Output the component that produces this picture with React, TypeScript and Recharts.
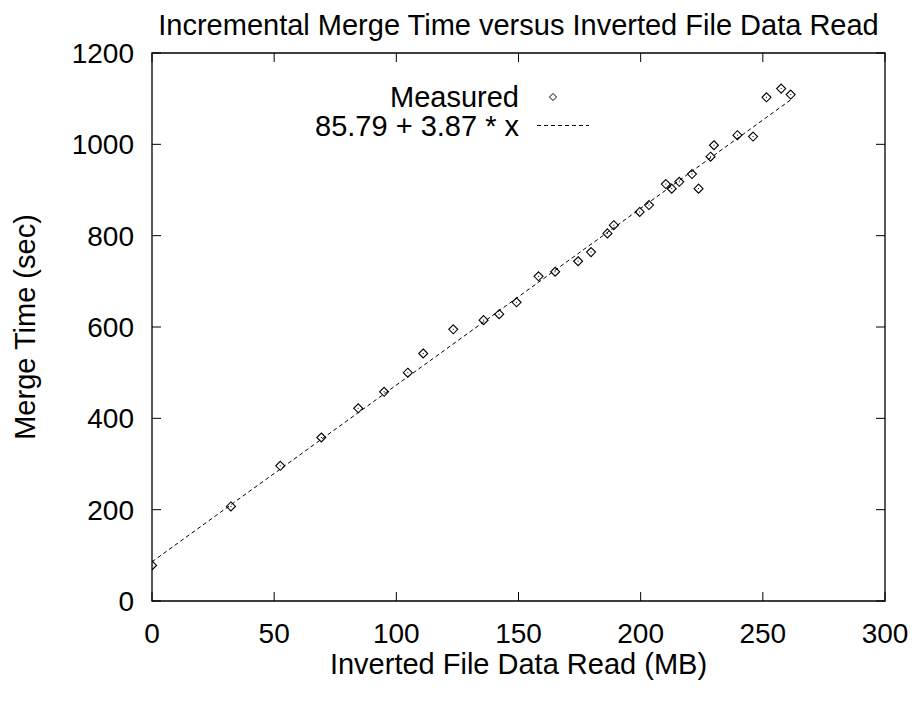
import React from 'react';
import { ScatterChart, Scatter, XAxis, YAxis, ReferenceArea, Legend } from 'recharts';

// ---- data ----
const dataReadMB = [
  0, 32.3, 52.5, 69.3, 84.4, 95, 104.7, 111, 123.3, 135.7, 142.1, 149.2, 158.2, 165,
  174.4, 179.7, 186.4, 189, 199.6, 203.4, 210.3, 212.7, 215.8, 221, 223.7, 228.6, 230,
  239.6, 246, 251.5, 257.5, 261.4,
];
const mergeTimeSec = [
  78, 207, 296, 358, 422, 458, 500, 542, 595, 615, 628, 654, 711, 721,
  744, 764, 805, 823, 852, 867, 913, 903, 918, 935, 903, 973, 998,
  1020, 1017, 1103, 1122, 1109,
];
const fitX = [0, 261.4];
const fitY = [85.79, 1097.4];
const xTicks = [0, 50, 100, 150, 200, 250, 300];
const yTicks = [0, 200, 400, 600, 800, 1000, 1200];

const TITLE = 'Incremental Merge Time versus Inverted File Data Read';
const X_LABEL = 'Inverted File Data Read (MB)';
const Y_LABEL = 'Merge Time (sec)';
const MEASURED_NAME = 'Measured';
const FIT_NAME = '85.79 + 3.87 * x';

const measured = dataReadMB.map((x, i) => ({ x, y: mergeTimeSec[i] }));
const fitLine = fitX.map((x, i) => ({ x, y: fitY[i] }));

// ---- layout / style ----
const W = 909;
const H = 690;
const PLOT_LEFT = 144;
const PLOT_RIGHT = 877;
const PLOT_TOP = 45;
const PLOT_BOTTOM = 593;
const TICK_LEN = 9;
const FONT = '"Liberation Sans", Arial, Helvetica, sans-serif';
const FS = 28;
const FS_TEXT = 29;

const XTick = (props: any) => {
  const { x, payload } = props;
  return (
    <g>
      <line x1={x} y1={PLOT_BOTTOM} x2={x} y2={PLOT_BOTTOM - TICK_LEN} stroke="#000" strokeWidth={1} />
      <line x1={x} y1={PLOT_TOP} x2={x} y2={PLOT_TOP + TICK_LEN} stroke="#000" strokeWidth={1} />
      <text x={x} y={PLOT_BOTTOM + 42} textAnchor="middle" fontSize={FS} fontFamily={FONT} fill="#000">
        {payload.value}
      </text>
    </g>
  );
};

const YTick = (props: any) => {
  const { y, payload } = props;
  return (
    <g>
      <line x1={PLOT_LEFT} y1={y} x2={PLOT_LEFT + TICK_LEN} y2={y} stroke="#000" strokeWidth={1} />
      <line x1={PLOT_RIGHT} y1={y} x2={PLOT_RIGHT - TICK_LEN} y2={y} stroke="#000" strokeWidth={1} />
      <text x={PLOT_LEFT - 18} y={y + 10} textAnchor="end" fontSize={FS} fontFamily={FONT} fill="#000">
        {payload.value}
      </text>
    </g>
  );
};

const Diamond = (props: any) => {
  const { cx, cy } = props;
  const r = 4.5;
  return (
    <g>
      <polygon
        points={`${cx},${cy - r} ${cx + r},${cy} ${cx},${cy + r} ${cx - r},${cy}`}
        fill="none"
        stroke="#000"
        strokeWidth={1.1}
      />
      <rect x={cx - 0.5} y={cy - 0.5} width={1} height={1} fill="#000" />
    </g>
  );
};

const NoShape = () => <g />;

const LegendContent = (props: any) => {
  const payload = props.payload || [];
  const m = payload.find((p: any) => p.value === MEASURED_NAME);
  const f = payload.find((p: any) => p.value === FIT_NAME);
  const r = 3.5;
  return (
    <svg width={W} height={140} style={{ display: 'block' }}>
      <text x={511} y={99} textAnchor="end" fontSize={FS_TEXT} fontFamily={FONT} fill="#000">
        {m ? m.value : MEASURED_NAME}
      </text>
      <polygon
        points={`545,${89 - r} ${545 + r},89 545,${89 + r} ${545 - r},89`}
        fill="none"
        stroke="#000"
        strokeWidth={1}
      />
      <text x={511} y={128} textAnchor="end" fontSize={FS_TEXT} fontFamily={FONT} fill="#000">
        {f ? f.value : FIT_NAME}
      </text>
      <line x1={529} y1={117.5} x2={581} y2={117.5} stroke="#000" strokeWidth={1} strokeDasharray="4 3" />
    </svg>
  );
};

export default function App() {
  return (
    <div style={{ position: 'relative', width: W, height: H, fontFamily: FONT, background: '#fff' }}>
      <div
        style={{
          position: 'absolute',
          left: PLOT_LEFT,
          width: PLOT_RIGHT - PLOT_LEFT,
          top: 3,
          textAlign: 'center',
          fontSize: FS_TEXT,
          lineHeight: '29px',
          color: '#000',
          whiteSpace: 'nowrap',
          zIndex: 2,
        }}
      >
        {TITLE}
      </div>
      <ScatterChart
        width={W}
        height={H}
        margin={{ top: PLOT_TOP, right: W - PLOT_RIGHT, bottom: 0, left: 0 }}
      >
        <XAxis
          type="number"
          dataKey="x"
          domain={[0, 300]}
          ticks={xTicks}
          interval={0}
          allowDataOverflow
          height={H - PLOT_BOTTOM}
          axisLine={false}
          tickLine={false}
          tickSize={0}
          tickMargin={0}
          tick={<XTick />}
          label={{
            value: X_LABEL,
            position: 'insideTop',
            offset: 52,
            style: { fontSize: FS_TEXT, fontFamily: FONT, fill: '#000' },
          }}
        />
        <YAxis
          type="number"
          dataKey="y"
          domain={[0, 1200]}
          ticks={yTicks}
          interval={0}
          allowDataOverflow
          width={PLOT_LEFT}
          axisLine={false}
          tickLine={false}
          tickSize={0}
          tickMargin={0}
          tick={<YTick />}
          label={{
            value: Y_LABEL,
            angle: -90,
            position: 'insideLeft',
            offset: 17,
            style: { fontSize: FS_TEXT, fontFamily: FONT, fill: '#000', textAnchor: 'middle' },
          }}
        />
        <ReferenceArea x1={0} x2={300} y1={0} y2={1200} fill="none" fillOpacity={0} stroke="#000" strokeWidth={1.3} />
        <Legend
          layout="horizontal"
          verticalAlign="middle"
          align="center"
          content={<LegendContent />}
          wrapperStyle={{ position: 'absolute', left: 0, top: 0, width: W, height: 140 }}
        />
        <Scatter
          name={FIT_NAME}
          data={fitLine}
          line={{ stroke: '#000', strokeWidth: 1, strokeDasharray: '4 3' }}
          shape={NoShape}
          isAnimationActive={false}
        />
        <Scatter name={MEASURED_NAME} data={measured} shape={Diamond} isAnimationActive={false} />
      </ScatterChart>
    </div>
  );
}
